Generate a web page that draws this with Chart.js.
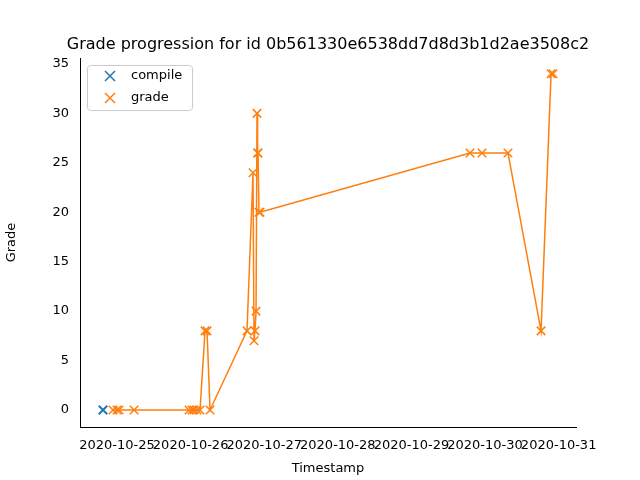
<!DOCTYPE html>
<html>
<head>
<script src="https://cdn.jsdelivr.net/npm/chart.js@4"></script>
<style>body{margin:0;background:#fff}</style>
</head>
<body>
<canvas id="c" width="640" height="480"></canvas>
<script>
const compileTimes = ["2020-10-24T19:26"];
const compileGrades = [0];
const gradeTimes = ["2020-10-24T22:42", "2020-10-25T00:00", "2020-10-25T00:39", "2020-10-25T05:33",
	"2020-10-25T23:28", "2020-10-26T00:27", "2020-10-26T01:06", "2020-10-26T02:05", "2020-10-26T03:04",
	"2020-10-26T04:42", "2020-10-26T05:21", "2020-10-26T06:20", "2020-10-26T18:23", "2020-10-26T20:21",
	"2020-10-26T20:40", "2020-10-26T21:00", "2020-10-26T21:20", "2020-10-26T21:39", "2020-10-26T21:50",
	"2020-10-26T21:59", "2020-10-26T22:18", "2020-10-26T22:38", "2020-10-29T19:06", "2020-10-29T23:01",
	"2020-10-30T07:29", "2020-10-30T18:16", "2020-10-30T21:32", "2020-10-30T22:11"];
const gradeValues = [0, 0, 0, 0, 0, 0, 0, 0, 0, 8, 8, 0, 8, 24, 7, 8, 10, 30, 26, 26, 20, 20, 26, 26, 26, 8, 34, 34];
const dayTicks = ["2020-10-25", "2020-10-26", "2020-10-27", "2020-10-28", "2020-10-29", "2020-10-30", "2020-10-31"];

const toMs = (s) => Date.parse(s + (s.length > 10 ? ":00Z" : "T00:00:00Z"));
const DAY = 86400000;
const blue = "#1f77b4";
const orange = "#ff7f0e";
const font = "DejaVu Sans";

const overlay = {
	id: "overlay",
	afterDraw(chart) {
		const ctx = chart.ctx;
		ctx.save();
		ctx.fillStyle = "#000";
		ctx.font = "16px '" + font + "'";
		ctx.textAlign = "center";
		ctx.textBaseline = "alphabetic";
		ctx.fillText("Grade progression for id 0b561330e6538dd7d8d3b1d2ae3508c2", 328, 49);
		// legend
		ctx.fillStyle = "rgba(255,255,255,0.8)";
		ctx.strokeStyle = "#ccc";
		ctx.lineWidth = 1;
		ctx.beginPath();
		ctx.roundRect(87.5, 65.5, 105, 45, 3);
		ctx.fill();
		ctx.stroke();
		const items = [["compile", blue, 76], ["grade", orange, 98]];
		ctx.font = "13px '" + font + "'";
		ctx.textAlign = "left";
		ctx.textBaseline = "middle";
		for (const [label, col, y] of items) {
			ctx.strokeStyle = col;
			ctx.lineWidth = 1.5;
			ctx.beginPath();
			ctx.moveTo(105, y - 5); ctx.lineTo(115, y + 5);
			ctx.moveTo(105, y + 5); ctx.lineTo(115, y - 5);
			ctx.stroke();
			ctx.fillStyle = "#000";
			ctx.fillText(label, 131, y);
		}
		ctx.restore();
	}
};

new Chart(document.getElementById("c"), {
	type: "scatter",
	data: {
		datasets: [
			{
				label: "compile",
				data: compileTimes.map((t, i) => ({ x: toMs(t), y: compileGrades[i] })),
				borderColor: blue,
				backgroundColor: blue,
				pointStyle: "crossRot",
				pointRadius: 6,
				pointBorderWidth: 2,
			},
			{
				label: "grade",
				data: gradeTimes.map((t, i) => ({ x: toMs(t), y: gradeValues[i] })),
				borderColor: orange,
				backgroundColor: orange,
				showLine: true,
				borderWidth: 1.5,
				pointStyle: "crossRot",
				pointRadius: 6,
				pointBorderWidth: 1.5,
			},
		],
	},
	options: {
		responsive: false,
		animation: false,
		layout: { padding: { top: 58, right: 64, left: 0, bottom: 0 } },
		plugins: { legend: { display: false }, tooltip: { enabled: false } },
		scales: {
			x: {
				type: "linear",
				min: toMs("2020-10-24") + 0.497 * DAY,
				max: toMs("2020-10-31") + 0.236 * DAY,
				afterFit: (s) => { s.height = 53; },
				afterBuildTicks: (s) => { s.ticks = dayTicks.map((d) => ({ value: toMs(d) })); },
				ticks: {
					callback: (v) => new Date(v).toISOString().slice(0, 10),
					color: "#000", font: { family: font, size: 13 }, maxRotation: 0, autoSkip: false,
				},
				grid: { display: false, drawTicks: true },
				border: { color: "#000" },
				title: { display: true, text: "Timestamp", color: "#000", font: { family: font, size: 13 } },
			},
			y: {
				min: -1.72,
				max: 35.6,
				afterFit: (s) => { s.width = 80; },
				afterBuildTicks: (s) => { s.ticks = [0, 5, 10, 15, 20, 25, 30, 35].map((v) => ({ value: v })); },
				ticks: { color: "#000", font: { family: font, size: 13 } },
				grid: { display: false },
				border: { color: "#000" },
				title: { display: true, text: "Grade", color: "#000", font: { family: font, size: 13 } },
			},
		},
	},
	plugins: [overlay],
});
</script>
</body>
</html>
